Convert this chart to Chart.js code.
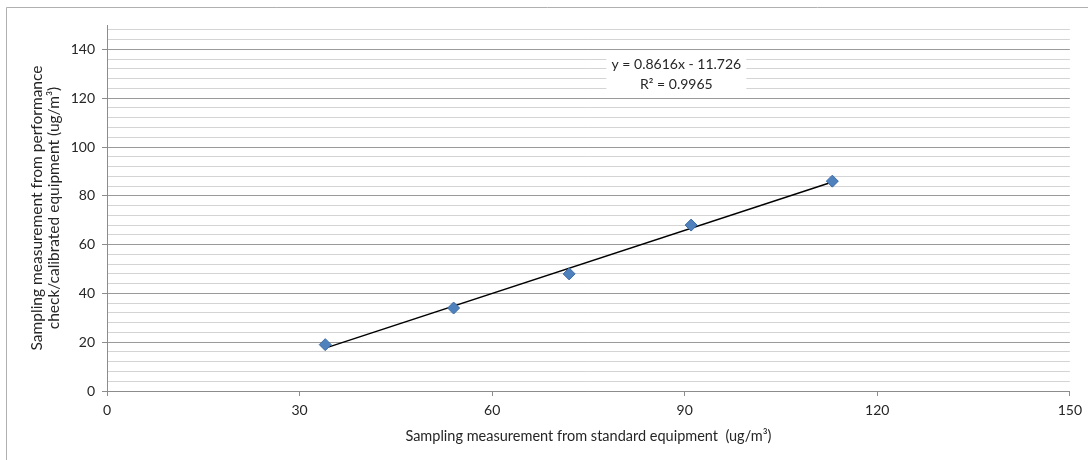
<!DOCTYPE html>
<html>
<head>
<meta charset="utf-8">
<script src="https://cdn.jsdelivr.net/npm/chart.js@4"></script>
<style>
  html, body { margin: 0; padding: 0; background: #fff; }
  #wrap { width: 1088px; height: 460px; }
</style>
</head>
<body>
<div id="wrap"><canvas id="calChart"></canvas></div>
<script>
// measured points: standard equipment (x) vs performance check equipment (y)
const xValues = [34, 54, 72, 91, 113];
const yValues = [19, 34, 48, 68, 86];

const xTicks = [0, 30, 60, 90, 120, 150];
const yTicks = [0, 20, 40, 60, 80, 100, 120, 140];
const yMinorStep = 4;

// linear trendline as printed on the chart
const slope = 0.8616;
const intercept = -11.726;
const rSquared = 0.9965;

const points = xValues.map((x, i) => ({ x: x, y: yValues[i] }));
const xMin = Math.min(...xValues), xMax = Math.max(...xValues);
const trend = [
  { x: xMin, y: slope * xMin + intercept },
  { x: xMax, y: slope * xMax + intercept }
];

const FONT = 'Lato';
const TEXT = '#262626';

const frame = {
  id: 'frame',
  beforeDraw(chart) {
    const c = chart.ctx;
    c.save();
    c.strokeStyle = '#b0b0b0';
    c.lineWidth = 1;
    c.beginPath();
    c.moveTo(6.5, 460);
    c.lineTo(6.5, 7.5);
    c.lineTo(1088, 7.5);
    c.stroke();
    c.restore();
  }
};

const equation = {
  id: 'equation',
  afterDatasetsDraw(chart) {
    const c = chart.ctx;
    const xs = chart.scales.x, ys = chart.scales.y;
    const cx = xs.getPixelForValue(88.7);
    const cy = ys.getPixelForValue(130);
    c.save();
    c.fillStyle = '#fff';
    c.fillRect(cx - 70, cy - 20, 140, 41);
    c.fillStyle = TEXT;
    c.font = '14px ' + FONT;
    c.textAlign = 'center';
    c.textBaseline = 'middle';
    c.fillText('y = ' + slope + 'x - ' + Math.abs(intercept), cx, cy - 9);
    c.fillText('R\u00b2 = ' + rSquared, cx, cy + 11);
    c.restore();
  }
};

const ctx = document.getElementById('calChart').getContext('2d');
const calChart = new Chart(ctx, {
  type: 'scatter',
  data: {
    datasets: [{
      label: 'Measurements',
      data: points,
      pointStyle: 'rectRot',
      pointRadius: 6,
      pointHoverRadius: 6,
      backgroundColor: '#4F81BD',
      borderColor: '#3D6CA6',
      borderWidth: 1,
      order: 1
    }, {
      label: 'Linear trend',
      type: 'line',
      data: trend,
      borderColor: '#000',
      borderWidth: 1.5,
      pointRadius: 0,
      fill: false,
      order: 2
    }]
  },
  options: {
    responsive: true,
    maintainAspectRatio: false,
    animation: false,
    layout: { padding: { left: 8, top: 25, right: 17, bottom: 0 } },
    plugins: {
      legend: { display: false },
      tooltip: { enabled: false }
    },
    scales: {
      x: {
        type: 'linear',
        min: 0,
        max: 150,
        afterBuildTicks: s => { s.ticks = xTicks.map(v => ({ value: v })); },
        afterFit: s => { s.height = 69; },
        grid: { drawOnChartArea: false, drawTicks: true, tickLength: 5, color: '#8c8c8c' },
        border: { display: true, color: '#8c8c8c' },
        ticks: { color: TEXT, font: { family: FONT, size: 14 }, padding: 6, maxRotation: 0 },
        title: {
          display: true,
          text: 'Sampling measurement from standard equipment  (ug/m\u00b3)',
          color: TEXT,
          font: { family: FONT, size: 14.5, lineHeight: 1.15 },
          padding: { top: 0, bottom: 15 }
        }
      },
      y: {
        type: 'linear',
        min: 0,
        max: 150,
        afterBuildTicks: s => {
          const t = [];
          for (let v = 0; v < 150; v += yMinorStep) t.push({ value: v });
          s.ticks = t;
        },
        afterFit: s => { s.width = 99; },
        grid: {
          drawTicks: true,
          tickLength: 5,
          color: c => (yTicks.includes(c.tick.value) ? '#9a9a9a' : '#d4d4d4'),
          tickColor: c => (yTicks.includes(c.tick.value) ? '#8c8c8c' : 'rgba(0,0,0,0)')
        },
        border: { display: true, color: '#8c8c8c' },
        ticks: {
          color: TEXT,
          font: { family: FONT, size: 14 },
          padding: 7,
          autoSkip: false,
          callback: v => (yTicks.includes(v) ? v : '')
        },
        title: {
          display: true,
          text: ['Sampling measurement from performance', 'check/calibrated equipment (ug/m\u00b3)'],
          color: TEXT,
          font: { family: FONT, size: 15.5, lineHeight: 1.1 },
          padding: { top: 20, bottom: 0 }
        }
      }
    }
  },
  plugins: [frame, equation]
});
</script>
</body>
</html>
